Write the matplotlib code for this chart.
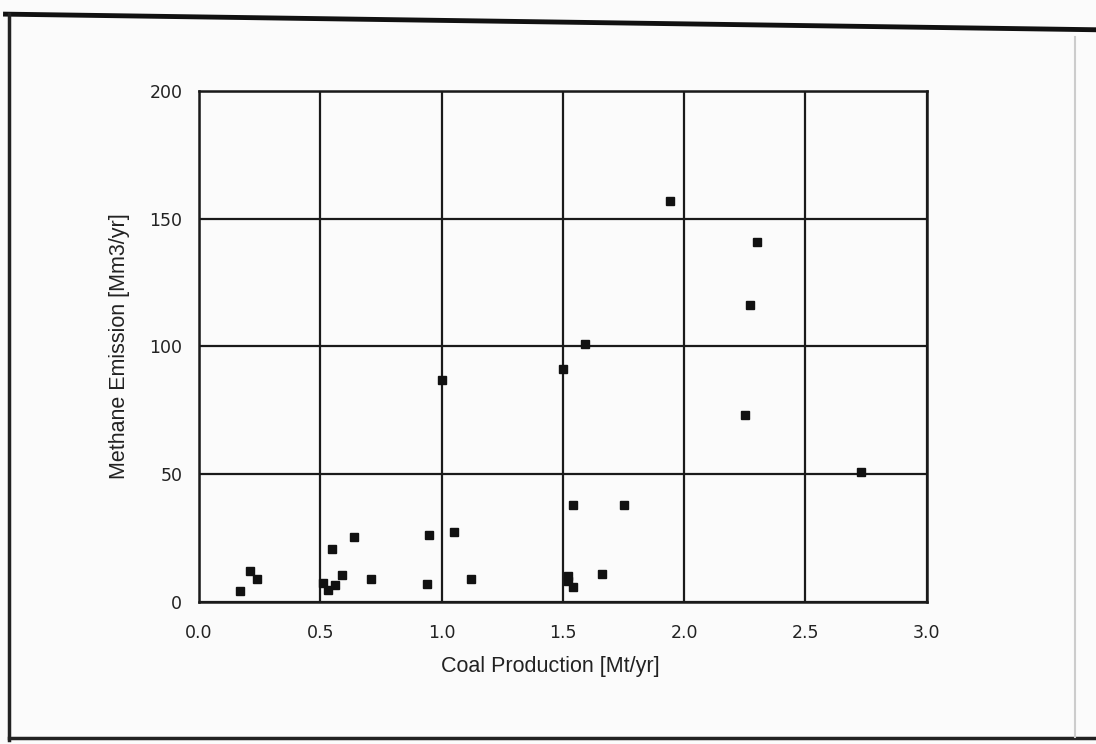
import numpy as np
import matplotlib.pyplot as plt
from matplotlib.lines import Line2D

# Coal production vs methane emission per mine
coal_production = [0.17, 0.21, 0.24, 0.51, 0.53, 0.56, 0.59, 0.55, 0.64, 0.71,
                   0.95, 0.94, 1.05, 1.12, 1.00, 1.50, 1.59, 1.54, 1.75, 1.52,
                   1.52, 1.54, 1.66, 1.94, 2.30, 2.27, 2.25, 2.73]
methane_emission = [4.1, 11.9, 8.8, 7.5, 4.8, 6.8, 10.7, 20.8, 25.2, 8.9,
                    26.3, 7.1, 27.2, 8.9, 87, 91, 101, 38, 38, 10,
                    8, 6, 11, 157, 141, 116, 73, 51]

x_ticks = [0.0, 0.5, 1.0, 1.5, 2.0, 2.5, 3.0]
y_ticks = [0, 50, 100, 150, 200]

fig = plt.figure(figsize=(10.96, 7.44), dpi=100)
fig.patch.set_facecolor('#fbfbfb')
ax = fig.add_axes([0.1816, 0.191, 0.664, 0.687])
ax.set_facecolor('#fbfbfb')

ax.plot(coal_production, methane_emission, 's', color='#111111', markersize=6,
        zorder=3)

ax.set_xlim(0, 3.0)
ax.set_ylim(0, 200)
ax.set_xticks(x_ticks)
ax.set_xticklabels(['%.1f' % v for v in x_ticks])
ax.set_yticks(y_ticks)
ax.tick_params(length=0, labelsize=12.5, colors='#222222')
ax.tick_params(axis='x', pad=16)
ax.tick_params(axis='y', pad=12)
ax.grid(True, color='#1a1a1a', linewidth=1.6)
for s in ax.spines.values():
    s.set_color('#1a1a1a')
    s.set_linewidth(1.8)

ax.set_xlabel('Coal Production [Mt/yr]', fontsize=15.5, family='Liberation Sans',
              color='#222222', labelpad=6)
ax.xaxis.set_label_coords(0.483, -0.105)
ax.set_ylabel('Methane Emission [Mm3/yr]', fontsize=15.5, family='Liberation Sans',
              color='#222222', labelpad=14)

# page frame around the figure
fig.add_artist(Line2D([0.005, 1.0], [0.981, 0.960], color='#111111', linewidth=3.5))
fig.add_artist(Line2D([0.008, 0.008], [0.981, 0.006], color='#222222', linewidth=2.5))
fig.add_artist(Line2D([0.008, 1.0], [0.008, 0.008], color='#222222', linewidth=2.5))
fig.add_artist(Line2D([0.981, 0.981], [0.95, 0.01], color='#cccccc', linewidth=1.5))

fig.savefig('out.png', dpi=100, facecolor=fig.get_facecolor())
